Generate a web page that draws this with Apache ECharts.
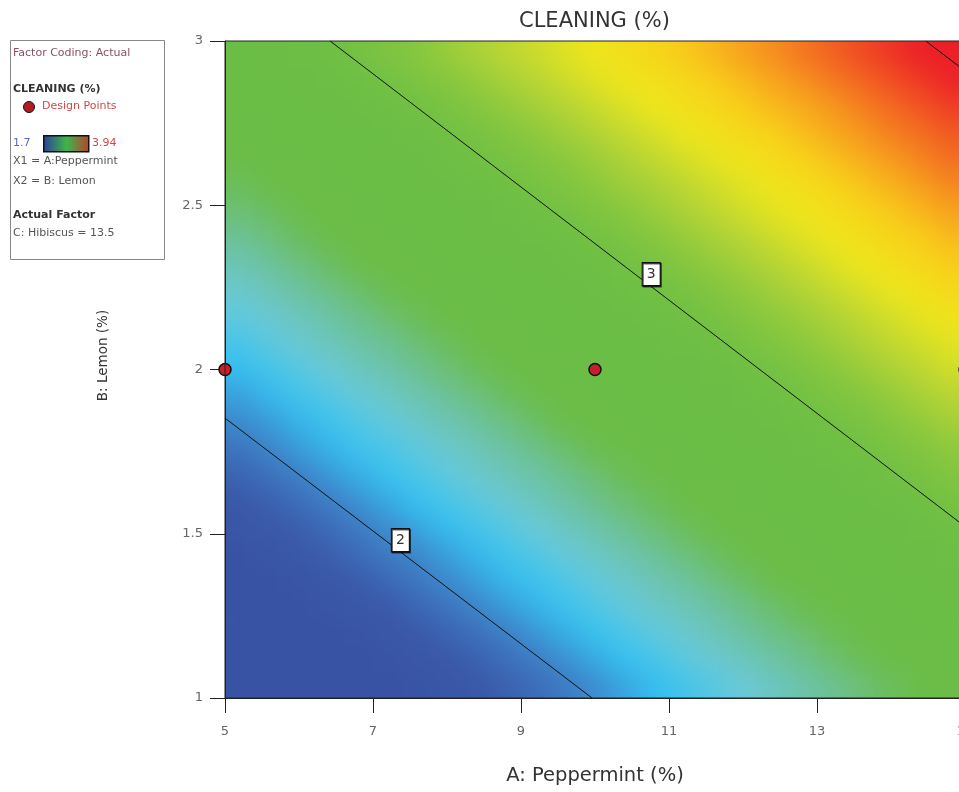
<!DOCTYPE html>
<html><head><meta charset="utf-8">
<script src="https://cdn.jsdelivr.net/npm/echarts@6/dist/echarts.min.js"></script>
<style>html,body{margin:0;padding:0;background:#fff;overflow:hidden}#c{width:1010px;height:792px}</style>
</head><body><div id="c"></div>
<script>
// cell centres (A: Peppermint, B: Lemon)
const xCenters = [5.2,5.6,6.0,6.4,6.8,7.2,7.6,8.0,8.4,8.8,9.2,9.6,10.0,10.4,10.8,11.2,11.6,12.0,12.4,12.8,13.2,13.6,14.0,14.4,14.8];
const yCenters = [1.04,1.12,1.20,1.28,1.36,1.44,1.52,1.60,1.68,1.76,1.84,1.92,2.00,2.08,2.16,2.24,2.32,2.40,2.48,2.56,2.64,2.72,2.80,2.88,2.96];
// CLEANING (%) surface, one row per yCenter
const surface = [
[1.44,1.49,1.54,1.59,1.64,1.69,1.74,1.79,1.84,1.89,1.93,1.98,2.03,2.08,2.13,2.18,2.23,2.28,2.33,2.38,2.43,2.48,2.53,2.58,2.63],
[1.50,1.55,1.60,1.65,1.70,1.75,1.79,1.84,1.89,1.94,1.99,2.04,2.09,2.14,2.19,2.24,2.29,2.34,2.39,2.44,2.49,2.54,2.59,2.63,2.68],
[1.56,1.60,1.65,1.70,1.75,1.80,1.85,1.90,1.95,2.00,2.05,2.10,2.15,2.20,2.25,2.30,2.35,2.40,2.45,2.49,2.54,2.59,2.64,2.69,2.74],
[1.61,1.66,1.71,1.76,1.81,1.86,1.91,1.96,2.01,2.06,2.11,2.16,2.21,2.26,2.31,2.35,2.40,2.45,2.50,2.55,2.60,2.65,2.70,2.75,2.80],
[1.67,1.72,1.77,1.82,1.87,1.92,1.97,2.02,2.07,2.12,2.16,2.21,2.26,2.31,2.36,2.41,2.46,2.51,2.56,2.61,2.66,2.71,2.76,2.81,2.86],
[1.73,1.78,1.83,1.88,1.93,1.98,2.02,2.07,2.12,2.17,2.22,2.27,2.32,2.37,2.42,2.47,2.52,2.57,2.62,2.67,2.72,2.77,2.82,2.86,2.91],
[1.79,1.83,1.88,1.93,1.98,2.03,2.08,2.13,2.18,2.23,2.28,2.33,2.38,2.43,2.48,2.53,2.58,2.63,2.68,2.72,2.77,2.82,2.87,2.92,2.97],
[1.84,1.89,1.94,1.99,2.04,2.09,2.14,2.19,2.24,2.29,2.34,2.39,2.44,2.49,2.53,2.58,2.63,2.68,2.73,2.78,2.83,2.88,2.93,2.98,3.03],
[1.90,1.95,2.00,2.05,2.10,2.15,2.20,2.25,2.30,2.35,2.39,2.44,2.49,2.54,2.59,2.64,2.69,2.74,2.79,2.84,2.89,2.94,2.99,3.04,3.09],
[1.96,2.01,2.06,2.11,2.16,2.20,2.25,2.30,2.35,2.40,2.45,2.50,2.55,2.60,2.65,2.70,2.75,2.80,2.85,2.90,2.95,3.00,3.05,3.09,3.14],
[2.02,2.06,2.11,2.16,2.21,2.26,2.31,2.36,2.41,2.46,2.51,2.56,2.61,2.66,2.71,2.76,2.81,2.86,2.91,2.95,3.00,3.05,3.10,3.15,3.20],
[2.07,2.12,2.17,2.22,2.27,2.32,2.37,2.42,2.47,2.52,2.57,2.62,2.67,2.72,2.76,2.81,2.86,2.91,2.96,3.01,3.06,3.11,3.16,3.21,3.26],
[2.13,2.18,2.23,2.28,2.33,2.38,2.43,2.48,2.53,2.58,2.62,2.67,2.72,2.77,2.82,2.87,2.92,2.97,3.02,3.07,3.12,3.17,3.22,3.27,3.32],
[2.19,2.24,2.29,2.34,2.39,2.43,2.48,2.53,2.58,2.63,2.68,2.73,2.78,2.83,2.88,2.93,2.98,3.03,3.08,3.13,3.18,3.23,3.28,3.32,3.37],
[2.25,2.29,2.34,2.39,2.44,2.49,2.54,2.59,2.64,2.69,2.74,2.79,2.84,2.89,2.94,2.99,3.04,3.09,3.14,3.18,3.23,3.28,3.33,3.38,3.43],
[2.30,2.35,2.40,2.45,2.50,2.55,2.60,2.65,2.70,2.75,2.80,2.85,2.90,2.95,2.99,3.04,3.09,3.14,3.19,3.24,3.29,3.34,3.39,3.44,3.49],
[2.36,2.41,2.46,2.51,2.56,2.61,2.66,2.71,2.76,2.81,2.85,2.90,2.95,3.00,3.05,3.10,3.15,3.20,3.25,3.30,3.35,3.40,3.45,3.50,3.55],
[2.42,2.47,2.52,2.57,2.62,2.66,2.71,2.76,2.81,2.86,2.91,2.96,3.01,3.06,3.11,3.16,3.21,3.26,3.31,3.36,3.41,3.46,3.51,3.55,3.60],
[2.48,2.52,2.57,2.62,2.67,2.72,2.77,2.82,2.87,2.92,2.97,3.02,3.07,3.12,3.17,3.22,3.27,3.32,3.37,3.41,3.46,3.51,3.56,3.61,3.66],
[2.53,2.58,2.63,2.68,2.73,2.78,2.83,2.88,2.93,2.98,3.03,3.08,3.13,3.18,3.22,3.27,3.32,3.37,3.42,3.47,3.52,3.57,3.62,3.67,3.72],
[2.59,2.64,2.69,2.74,2.79,2.84,2.89,2.94,2.99,3.04,3.08,3.13,3.18,3.23,3.28,3.33,3.38,3.43,3.48,3.53,3.58,3.63,3.68,3.73,3.78],
[2.65,2.70,2.75,2.80,2.85,2.89,2.94,2.99,3.04,3.09,3.14,3.19,3.24,3.29,3.34,3.39,3.44,3.49,3.54,3.59,3.64,3.69,3.74,3.78,3.83],
[2.71,2.75,2.80,2.85,2.90,2.95,3.00,3.05,3.10,3.15,3.20,3.25,3.30,3.35,3.40,3.45,3.50,3.55,3.60,3.64,3.69,3.74,3.79,3.84,3.89],
[2.76,2.81,2.86,2.91,2.96,3.01,3.06,3.11,3.16,3.21,3.26,3.31,3.36,3.41,3.45,3.50,3.55,3.60,3.65,3.70,3.75,3.80,3.85,3.90,3.95],
[2.82,2.87,2.92,2.97,3.02,3.07,3.12,3.17,3.22,3.27,3.31,3.36,3.41,3.46,3.51,3.56,3.61,3.66,3.71,3.76,3.81,3.86,3.91,3.96,4.01]
];
// design points
const designX = [5, 10, 15];
const designY = [2, 2, 2];
// contour lines (endpoints)
const contour2 = [[5, 1.852], [9.96, 1]];
const contour3 = [[6.42, 3], [15, 1.522]];
const contour4 = [[14.47, 3], [15, 2.909]];
// contour labels
const contourLabelText = ['2', '3'];
const contourLabelX = [7.37, 10.76];
const contourLabelY = [1.48, 2.29];

const FONT = 'DejaVu Sans';
const CELL_W = 0.4, CELL_H = 0.08;
const NX = xCenters.length, NY = yCenters.length;
const EXT = 40;
const colorStops = ['#3953a4','#3953a4','#3953a4','#3953a4','#3a59a8','#3f7fc6','#34c2f2','#6bc9d8','#6cc199','#6bbd4a','#6abd45','#6abd45','#6ebf44','#86c73f','#b8d535','#eee71c','#f8d21a','#f79b1e','#f25d22','#ec2027','#ec1c24'];

const cells = [];
surface.forEach((row, j) => row.forEach((v, k) => cells.push([xCenters[k], yCenters[j], v])));

const chart = echarts.init(document.getElementById('c'), null, {renderer: 'canvas'});
const lineStyle = {color: '#111', width: 1};
const legendText = (x, y, text, fill, bold) => ({type: 'text', x: x, y: y,
  style: {text: text, fill: fill, font: (bold ? 'bold ' : '') + '11px "DejaVu Sans"', textVerticalAlign: 'middle', textAlign: 'left'}});
chart.setOption({
  animation: false,
  backgroundColor: 'transparent',
  textStyle: {fontFamily: FONT},
  title: {text: 'CLEANING (%)', left: 514, top: 6, textStyle: {fontFamily: FONT, fontSize: 21, fontWeight: 'normal', color: '#333'}},
  grid: {left: 225, top: 41, width: 740, bottom: 94, containLabel: false, outerBoundsMode: 'none',
    show: true, z: 10, backgroundColor: 'transparent', borderColor: '#222', borderWidth: 1},
  visualMap: {type: 'continuous', show: false, min: 1.3, max: 4.1, dimension: 2, seriesIndex: 0, inRange: {color: colorStops}},
  xAxis: {type: 'value', min: 5, max: 15, interval: 2,
    name: 'A: Peppermint (%)', nameLocation: 'middle', nameGap: 68,
    nameTextStyle: {fontFamily: FONT, fontSize: 19.5, color: '#333'},
    axisLine: {show: true, onZero: false, lineStyle: {color: '#222'}},
    axisTick: {show: true, length: 15, lineStyle: {color: '#222'}},
    axisLabel: {margin: 27, fontSize: 13, color: '#666', fontFamily: FONT},
    splitLine: {show: false}},
  yAxis: {type: 'value', min: 1, max: 3, interval: 0.5,
    name: 'B: Lemon (%)', nameLocation: 'middle', nameGap: 115, nameRotate: 90,
    nameTextStyle: {fontFamily: FONT, fontSize: 13.5, color: '#333', padding: [0, 0, 0, 28]},
    axisLine: {show: true, onZero: false, lineStyle: {color: '#222'}},
    axisTick: {show: true, length: 15, lineStyle: {color: '#222'}},
    axisLabel: {margin: 22, fontSize: 13, color: '#666', fontFamily: FONT},
    splitLine: {show: false}},
  series: [
    {type: 'custom', clip: false, silent: true, zlevel: -1, encode: {x: 0, y: 1}, data: cells,
      renderItem: function (params, api) {
        const k = params.dataIndex % NX, j = Math.floor(params.dataIndex / NX);
        const p = api.coord([api.value(0), api.value(1)]);
        const s = api.size([CELL_W, CELL_H]);
        let x0 = p[0] - s[0] / 2, x1 = p[0] + s[0] / 2 + 0.7;
        let y0 = p[1] - s[1] / 2, y1 = p[1] + s[1] / 2 + 0.7;
        if (k === 0) x0 -= EXT;
        if (k === NX - 1) x1 += EXT;
        if (j === 0) y1 += EXT;
        if (j === NY - 1) y0 -= EXT;
        return {type: 'rect', shape: {x: x0, y: y0, width: x1 - x0, height: y1 - y0},
          style: {fill: api.visual('color')}};
      }},
    {type: 'line', data: contour2, symbol: 'none', lineStyle: lineStyle, z: 3, silent: true},
    {type: 'line', data: contour3, symbol: 'none', lineStyle: lineStyle, z: 3, silent: true},
    {type: 'line', data: contour4, symbol: 'none', lineStyle: lineStyle, z: 3, silent: true},
    {type: 'scatter', z: 4, silent: true, symbol: 'rect', symbolSize: [18, 23],
      itemStyle: {color: '#fff', opacity: 1, borderColor: '#111', borderWidth: 1.3, shadowColor: 'rgba(0,0,0,0.6)', shadowOffsetX: 1, shadowOffsetY: 1},
      label: {show: true, position: 'inside', formatter: p => p.name, fontSize: 14, color: '#333', fontFamily: FONT},
      data: contourLabelText.map((t, i) => ({name: t, value: [contourLabelX[i], contourLabelY[i]]}))},
    {type: 'scatter', z: 5, silent: true, clip: false, symbol: 'circle', symbolSize: 12,
      itemStyle: {color: '#c8202a', opacity: 1, borderColor: '#111', borderWidth: 1.5},
      data: designX.map((x, i) => [x, designY[i]])}
  ],
  graphic: [
    {type: 'rect', left: 10, top: 40, shape: {width: 154, height: 219}, style: {fill: '#fff', stroke: '#888', lineWidth: 1}},
    legendText(13, 53, 'Factor Coding: Actual', '#8a5060'),
    legendText(13, 89, 'CLEANING (%)', '#333', true),
    {type: 'circle', shape: {cx: 29, cy: 107, r: 5.5}, style: {fill: '#b01e24', stroke: '#111', lineWidth: 1}},
    legendText(42, 106, 'Design Points', '#d0484c'),
    legendText(13, 143, '1.7', '#5a66c8'),
    {type: 'rect', left: 43, top: 135, shape: {width: 45, height: 16},
      style: {stroke: '#111', lineWidth: 1.5, fill: new echarts.graphic.LinearGradient(0, 0, 1, 0, [
        {offset: 0, color: '#2b3f9e'}, {offset: 0.5, color: '#3fb54a'}, {offset: 1, color: '#b8402e'}])}},
    legendText(92, 143, '3.94', '#d0484c'),
    legendText(13, 161, 'X1 = A:Peppermint', '#555'),
    legendText(13, 181, 'X2 = B: Lemon', '#555'),
    legendText(13, 215, 'Actual Factor', '#333', true),
    legendText(13, 233, 'C: Hibiscus = 13.5', '#555')
  ]
});
const surfCanvas = chart.getDom().querySelector('canvas[data-zr-dom-id="zr_-1"]');
if (surfCanvas) {
  surfCanvas.style.filter = 'blur(12px)';
  surfCanvas.style.clipPath = 'inset(41px 45px 94px 225px)';
}
</script>
</body></html>
